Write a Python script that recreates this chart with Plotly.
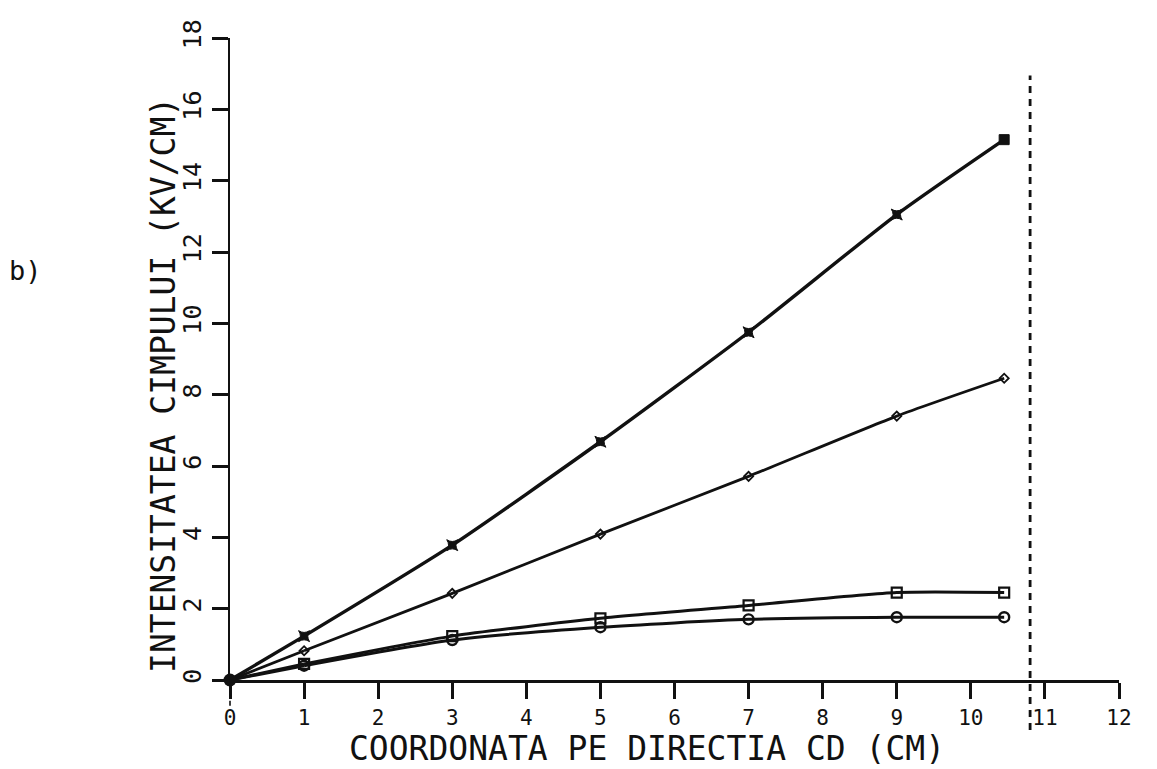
import plotly.graph_objects as go

# Field intensity along the CD direction
X = [0, 1, 3, 5, 7, 9, 10.45]
SERIES_A = [0, 1.23, 3.78, 6.68, 9.75, 13.05, 15.15]
SERIES_B = [0, 0.82, 2.43, 4.09, 5.71, 7.40, 8.46]
SERIES_C = [0, 0.45, 1.23, 1.73, 2.09, 2.45, 2.45]
SERIES_D = [0, 0.40, 1.12, 1.48, 1.70, 1.76, 1.76]

X_TICKS = list(range(0, 13))
Y_TICKS = list(range(0, 19, 2))
X_RANGE = [0, 12]
Y_RANGE = [0, 18]
BOUNDARY_X = 10.8
BOUNDARY_Y = [-1.4, 16.95]

X_TITLE = "COORDONATA PE DIRECTIA CD (CM)"
Y_TITLE = "INTENSITATEA CIMPULUI (KV/CM)"
PANEL_LABEL = "b)"

INK = "#111111"
FONT = "DejaVu Sans Mono"

fig = go.Figure()


def add_series(y, width, symbol, size, filled_last=False, mwidth=2):
    symbols = [symbol] * len(X)
    if filled_last:
        symbols[-1] = "square"
    fig.add_trace(go.Scatter(
        x=X[1:], y=y[1:],
        mode="lines+markers",
        line=dict(color=INK, width=width, shape="spline", smoothing=0.6),
        marker=dict(symbol=symbols[1:], size=size, color=INK,
                    line=dict(color=INK, width=mwidth)),
        cliponaxis=False,
        showlegend=False,
    ))
    # segment from the origin
    fig.add_trace(go.Scatter(
        x=X[:2], y=y[:2], mode="lines",
        line=dict(color=INK, width=width),
        cliponaxis=False, showlegend=False,
    ))


add_series(SERIES_A, 3.4, "star-square", 10, filled_last=True, mwidth=1)
add_series(SERIES_B, 2.8, "diamond-open", 7, mwidth=1.8)
add_series(SERIES_C, 3.0, "square-open", 10, mwidth=2.2)
add_series(SERIES_D, 3.0, "circle-open", 10, mwidth=2.4)

# common origin point
fig.add_trace(go.Scatter(
    x=[X[0]], y=[SERIES_A[0]], mode="markers",
    marker=dict(symbol="circle", size=13, color=INK),
    cliponaxis=False, showlegend=False,
))

# boundary of the region (dashed vertical)
xf = (BOUNDARY_X - X_RANGE[0]) / (X_RANGE[1] - X_RANGE[0])
yf0 = (BOUNDARY_Y[0] - Y_RANGE[0]) / (Y_RANGE[1] - Y_RANGE[0])
yf1 = (BOUNDARY_Y[1] - Y_RANGE[0]) / (Y_RANGE[1] - Y_RANGE[0])
fig.add_shape(type="line", xref="x domain", yref="y domain",
              x0=xf, x1=xf, y0=yf0, y1=yf1,
              line=dict(color=INK, width=2.8, dash="7px,6px"))

# short dashed continuation of the vertical axis below the origin
fig.add_shape(type="line", xref="x domain", yref="y domain",
              x0=0, x1=0, y0=-0.04, y1=0,
              line=dict(color=INK, width=1.6, dash="5px,4px"))

fig.add_annotation(text=X_TITLE, xref="paper", yref="paper",
                   x=0.469, y=-0.106, xanchor="center", yanchor="middle",
                   showarrow=False, font=dict(family=FONT, size=33, color=INK))
fig.add_annotation(text=Y_TITLE, xref="paper", yref="paper",
                   x=-0.0754, y=0.4595, xanchor="center", yanchor="middle",
                   textangle=-90, showarrow=False,
                   font=dict(family=FONT, size=33, color=INK))
fig.add_annotation(text=PANEL_LABEL, xref="paper", yref="paper",
                   x=-0.2295, y=0.6386, xanchor="center", yanchor="middle",
                   showarrow=False, font=dict(family=FONT, size=27, color=INK))

fig.update_xaxes(
    range=X_RANGE, tickvals=X_TICKS, ticktext=[str(v) for v in X_TICKS],
    showgrid=False, zeroline=False, showline=True, linecolor=INK, linewidth=2.6,
    ticks="outside", ticklen=16, tickwidth=2.6, tickcolor=INK,
    tickfont=dict(family=FONT, size=21, color=INK), ticklabelstandoff=1,
)
fig.update_yaxes(
    range=Y_RANGE, tickvals=Y_TICKS, ticktext=[str(v) for v in Y_TICKS],
    showgrid=False, zeroline=False, showline=True, linecolor=INK, linewidth=2,
    ticks="outside", ticklen=16, tickwidth=2.6, tickcolor=INK, tickangle=-90,
    tickfont=dict(family=FONT, size=25, color=INK), ticklabelstandoff=1,
)

fig.update_layout(
    width=1157, height=769,
    margin=dict(l=230, r=38, t=38, b=89),
    paper_bgcolor="white", plot_bgcolor="white",
    showlegend=False,
)

fig.write_html("out.html")
